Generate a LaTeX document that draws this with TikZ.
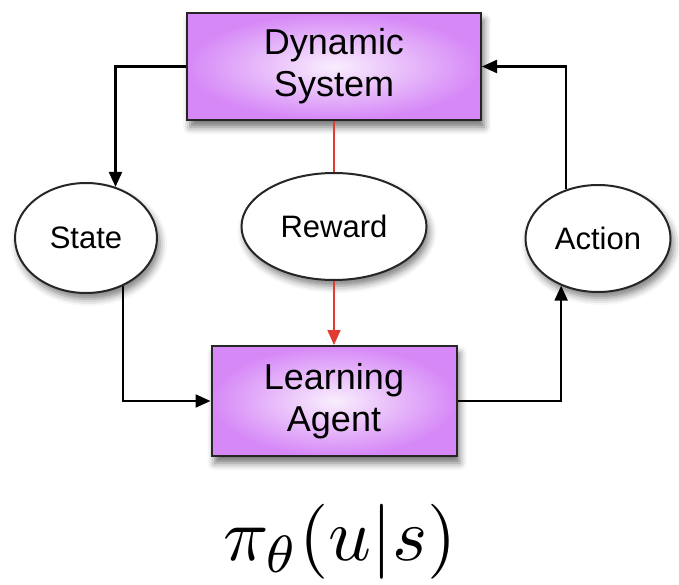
\documentclass[tikz,border=0pt]{standalone}
\usepackage[no-math]{fontspec}
\setmainfont{Liberation Sans}
\usepackage{tikz}
\usetikzlibrary{shapes, arrows.meta, positioning, shadows.blur}
\definecolor{boxpurple}{RGB}{214,136,247}
\definecolor{boxcore}{RGB}{249,238,253}
\definecolor{rwred}{RGB}{224,60,48}
\tikzset{
    base/.style={draw=black!85, line width=2pt, align=center, inner sep=0pt},
    block/.style={base, rectangle, inner color=boxcore, outer color=boxpurple, font=\fontsize{36}{42}\selectfont,
        blur shadow={shadow xshift=3pt, shadow yshift=-7pt, shadow blur radius=7pt, shadow opacity=55}},
    bubble/.style={base, ellipse, fill=white, font=\fontsize{31}{36}\selectfont,
        blur shadow={shadow xshift=3pt, shadow yshift=-6pt, shadow blur radius=7pt, shadow opacity=50}},
    line/.style={draw=black, line width=2.2pt, -{Triangle[length=15pt, width=13pt]}},
    red-line/.style={draw=rwred, line width=1.8pt}
}
\begin{document}
\begin{tikzpicture}[x=1pt, y=-1pt]
    \useasboundingbox (0,0) rectangle (679,585);

    \node [block, minimum width=294pt, minimum height=107pt] (DS) at (334,66.5) {Dynamic\\System};
    \node [bubble, minimum width=185pt, minimum height=107pt, below=51pt of DS] (RW) {Reward};
    \node [block, minimum width=245pt, minimum height=110pt, below=64pt of RW] (LA) {Learning\\Agent};
    \node [bubble, minimum width=142pt, minimum height=110pt] (ST) at (86,238) {State};
    \node [bubble, minimum width=145pt, minimum height=107pt] (AC) at (598,238.5) {Action};

    \draw [line] (DS.west) -| (ST.60);
    \draw [line] (ST.-52) |- (LA.west);
    \draw [line] (LA.east) -| (AC.-128);
    \draw [line] (AC.123) |- (DS.east);

    \draw [red-line] (DS.south) -- (RW.north);
    \draw [red-line, -{Triangle[length=15pt, width=13pt]}] (RW.south) -- (LA.north);

    \node [scale=7.5] (PI) at (340,542) {$\pi_\theta(u|s)$};
\end{tikzpicture}
\end{document}
